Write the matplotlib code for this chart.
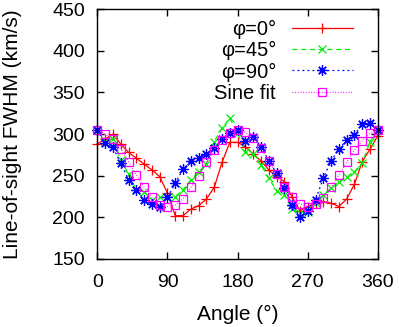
import matplotlib
matplotlib.use('Agg')
import matplotlib.pyplot as plt

plt.rcParams['font.family'] = ['Liberation Sans', 'DejaVu Sans']

# angle of the line of sight, every 10 degrees
angle = list(range(0, 361, 10))

fwhm_phi0 = [288, 294, 300, 288, 278, 271, 264, 257, 249, 229,
             202, 202, 210, 214, 222, 236, 266, 290, 290, 285,
             276, 268, 257, 249, 243, 224, 208, 213, 217, 219,
             217, 213, 222, 240, 267, 282, 298]
fwhm_phi45 = [305, 291, 294, 269, 252, 233, 231, 221, 224, 224,
              225, 233, 245, 255, 264, 291, 307, 319, 301, 278,
              276, 263, 247, 232, 227, 210, 205, 207, 217, 227,
              235, 243, 248, 255, 265, 291, 305]
fwhm_phi90 = [305, 289, 284, 265, 245, 233, 221, 216, 213, 224,
              241, 258, 268, 271, 276, 283, 294, 301, 305, 292,
              297, 285, 268, 253, 235, 215, 201, 208, 221, 247,
              268, 282, 293, 299, 312, 313, 305]
sine_fit = [305, 300, 294, 282, 267, 251, 236, 224, 215, 213,
            215, 222, 236, 250, 266, 281, 293, 301, 305, 302,
            295, 283, 268, 252, 237, 224, 216, 213, 216, 223,
            236, 251, 266, 281, 292, 301, 305]

fig = plt.figure(figsize=(3.99, 3.27), dpi=100)
ax = fig.add_axes([0.244, 0.208, 0.703, 0.764])

ax.plot(angle, fwhm_phi0, color='#ff0000', lw=0.9, marker='+', ms=7,
        mew=0.9, label='\u03c6=0\u00b0', clip_on=False)
ax.plot(angle, fwhm_phi45, color='#00ee00', lw=0.9, ls=(0, (4, 3)),
        marker='x', ms=6, mew=0.9, label='\u03c6=45\u00b0', clip_on=False)
ax.plot(angle, fwhm_phi90, color='#0000ff', lw=0.9, ls=(0, (1.5, 2.5)),
        marker=(8, 2, 0), ms=7.5, mew=0.9, label='\u03c6=90\u00b0', clip_on=False)
ax.plot(angle, sine_fit, color='#ff00ff', lw=0.8, ls=(0, (0.8, 1.6)),
        marker='s', ms=6, mfc='none', mew=0.9, label='Sine fit', clip_on=False)

ax.set_xlim(0, 360)
ax.set_ylim(150, 450)
ax.set_xticks([0, 90, 180, 270, 360])
ax.set_yticks(range(150, 451, 50))
ax.tick_params(direction='in', length=5, width=1, top=True, right=True,
               labelsize=14)
ax.tick_params(axis='x', pad=11)
ax.tick_params(axis='y', pad=9)
for s in ax.spines.values():
    s.set_linewidth(1)

ax.set_xlabel('Angle (\u00b0)', fontsize=15, labelpad=10)
ax.set_ylabel('Line-of-sight FWHM (km/s)', fontsize=15, labelpad=22)

ax.legend(loc='upper right', bbox_to_anchor=(0.96, 1.015), frameon=False,
          markerfirst=False, numpoints=1, handlelength=3.0, handletextpad=0.8,
          labelspacing=0.12, fontsize=14.5, borderpad=0.2)

fig.savefig('out.png', dpi=100)
